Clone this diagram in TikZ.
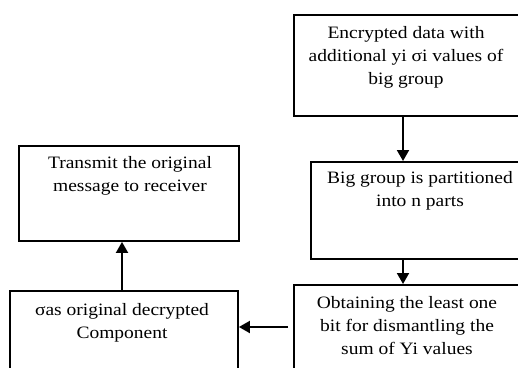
\documentclass[tikz,border=0pt]{standalone}
\usepackage{fontspec}
\setmainfont[FakeStretch=1.12]{Liberation Serif}
\usetikzlibrary{arrows.meta}
\begin{document}
\begin{tikzpicture}[x=1pt,y=-1pt,
  box/.style={draw=black, line width=1.9pt, rectangle, inner sep=0pt, anchor=north west},
  txt/.style={anchor=north, align=center, inner sep=0pt, font=\fontsize{17.4}{23}\selectfont},
  arr/.style={line width=1.9pt, -{Triangle[length=11pt,width=12pt]}}]
\useasboundingbox (0,0) rectangle (518,367);
% boxes
\node[box, minimum width=240pt, minimum height=101pt] (b1) at (293,14) {};
\node[box, minimum width=230pt, minimum height=97pt] (b2) at (310,161) {};
\node[box, minimum width=240pt, minimum height=100pt] (b3) at (293,284) {};
\node[box, minimum width=220pt, minimum height=95pt] (t) at (18,145) {};
\node[box, minimum width=228pt, minimum height=100pt] (s) at (9,290) {};
% texts
\node[txt] (tb1) at (406,26) {Encrypted data with\\additional yi σi values of\\big group};
\node[txt] (tb2) at (420,171) {Big group is partitioned\\into n parts};
\node[txt] (tb3) at (407,296) {Obtaining the least one\\bit for dismantling the\\sum of Yi values};
\node[txt] (tt) at (130,156) {Transmit the original\\message to receiver};
\node[txt] (ts) at (122,303) {σas original decrypted\\Component};
% arrows
\coordinate (ax) at (403,0);
\coordinate (ay) at (0,327);
\coordinate (az) at (122,0);
\draw[arr] (ax |- b1.south) -- (ax |- b2.north);
\draw[arr] (ax |- b2.south) -- (ax |- b3.north);
\draw[arr] ([xshift=-5pt]b3.west |- ay) -- (s.east |- ay);
\draw[arr] (az |- s.north) -- (az |- t.south);
\end{tikzpicture}
\end{document}
